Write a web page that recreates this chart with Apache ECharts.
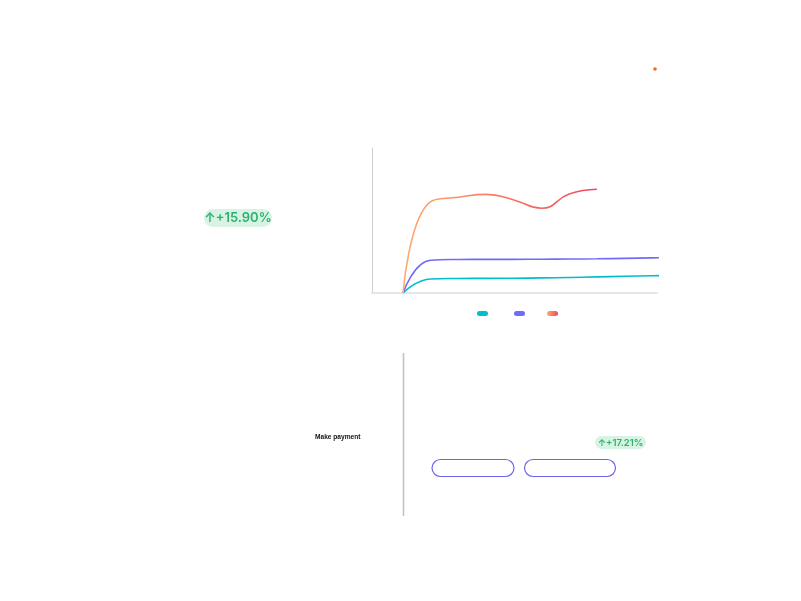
<!DOCTYPE html>
<html lang="en">
<head>
	<meta charset="UTF-8">
	<title>Conversion</title>
	<script src="https://cdn.jsdelivr.net/npm/echarts@6/dist/echarts.min.js" type="text/javascript"></script>
	<style>
		html,body{margin:0;padding:0;background:#fff;}
		#main{width:801px;height:601px;}
	</style>
</head>
<body>
<div id="main"></div>
<script>
	// 数据
	var seriesNames = ['Purchases', 'Add to cart', 'Visitors'];
	var dayIdx = [0, 1, 2, 3, 4, 5, 6, 7, 8, 9, 10];
	var purchases = [0, 9.7, 10.0, 10.1, 10.2, 10.4, 10.7, 11.1, 11.5, 11.9, 12.3];
	var addToCart = [0, 22.6, 23.1, 23.2, 23.2, 23.3, 23.4, 23.6, 23.9, 24.2, 24.5];
	var visitors = [0, 63, 66, 68, 64.2, 58.4, 68.2, 71.5];
	var badgeMain = '+15.90%';
	var badgeSmall = '+17.21%';

	function pairs(vals){
		var out = [];
		for(var i=0;i<vals.length;i++){
			out.push([dayIdx[i], vals[i]]);
		}
		return out;
	}

	var orangeGrad = new echarts.graphic.LinearGradient(0, 0, 1, 0, [
		{offset: 0, color: '#ffab6e'},
		{offset: 1, color: '#f2475c'}
	]);
	var colors = ['#00bfcc', '#716cf6', orangeGrad];
	var pill = 'path://M2.5,0 L8.5,0 A2.5,2.5 0 0 1 8.5,5 L2.5,5 A2.5,2.5 0 0 1 2.5,0 Z';

	//图例
	function oneLegend(name, left){
		return {
			data: [name],
			left: left,
			top: 311,
			padding: 0,
			itemWidth: 11,
			itemHeight: 5,
			icon: pill,
			selectedMode: false,
			textStyle: {color: '#fff', fontSize: 5, lineHeight: 5}
		};
	}

	//徽章
	function badge(x, y, w, h, txt, size){
		return {
			type: 'group',
			children: [
				{type: 'rect', shape: {x: x, y: y, width: w, height: h, r: h / 2}, style: {fill: '#d8f3e4'}},
				{type: 'text', x: x + w / 2, y: y + h / 2 + 0.5, style: {
					text: '\u2191' + txt, fill: '#2bb26c', font: '600 ' + size + 'px Inter, "DejaVu Sans", sans-serif',
					align: 'center', verticalAlign: 'middle'
				}}
			]
		};
	}

	var myChart = echarts.init(document.getElementById('main'));
	var option = {
		backgroundColor: '#fff',
		animation: false,
		color: colors,
		grid: {left: 372, right: 144, top: 148, bottom: 308},
		legend: [
			oneLegend(seriesNames[0], 477),
			oneLegend(seriesNames[1], 514),
			oneLegend(seriesNames[2], 547)
		],
		xAxis: {
			type: 'value',
			min: -1.12,
			max: 9.17,
			axisLine: {show: true, onZero: false, lineStyle: {color: '#e6e6e6', width: 2}},
			axisTick: {show: false},
			axisLabel: {show: false},
			splitLine: {show: false}
		},
		yAxis: {
			type: 'value',
			min: 0,
			max: 100,
			axisLine: {show: true, onZero: false, lineStyle: {color: '#cfcfcf', width: 1}},
			axisTick: {show: false},
			axisLabel: {show: false},
			splitLine: {show: false}
		},
		series: [
			{
				name: seriesNames[0], type: 'line', smooth: true, symbol: 'none', clip: true,
				lineStyle: {width: 1.6, color: colors[0]}, itemStyle: {color: colors[0]},
				data: pairs(purchases)
			},
			{
				name: seriesNames[1], type: 'line', smooth: true, symbol: 'none', clip: true,
				lineStyle: {width: 1.6, color: colors[1]}, itemStyle: {color: colors[1]},
				data: pairs(addToCart)
			},
			{
				name: seriesNames[2], type: 'line', smooth: true, symbol: 'none', clip: true,
				lineStyle: {width: 1.6, color: orangeGrad}, itemStyle: {color: orangeGrad},
				data: pairs(visitors)
			}
		],
		graphic: [
			{type: 'circle', shape: {cx: 655, cy: 69, r: 1.8}, style: {fill: '#f26b1d'}},
			badge(204, 209, 68, 18, badgeMain, 13),
			badge(595, 436, 51, 13, badgeSmall, 9.5),
			{type: 'text', x: 315, y: 437, style: {
				text: 'Make payment', fill: '#111', font: 'bold 6.6px "Liberation Sans", Arial, sans-serif',
				verticalAlign: 'middle'
			}},
			{type: 'line', shape: {x1: 403.5, y1: 353, x2: 403.5, y2: 516}, style: {stroke: '#c2c2c2', lineWidth: 1.6}},
			{type: 'rect', shape: {x: 432, y: 459.5, width: 82, height: 17, r: 8.5}, style: {fill: '#fff', stroke: '#6c64e8', lineWidth: 1.2}},
			{type: 'rect', shape: {x: 524.5, y: 459.5, width: 91, height: 17, r: 8.5}, style: {fill: '#fff', stroke: '#6c64e8', lineWidth: 1.2}}
		]
	};
	myChart.setOption(option);
</script>
</body>
</html>
